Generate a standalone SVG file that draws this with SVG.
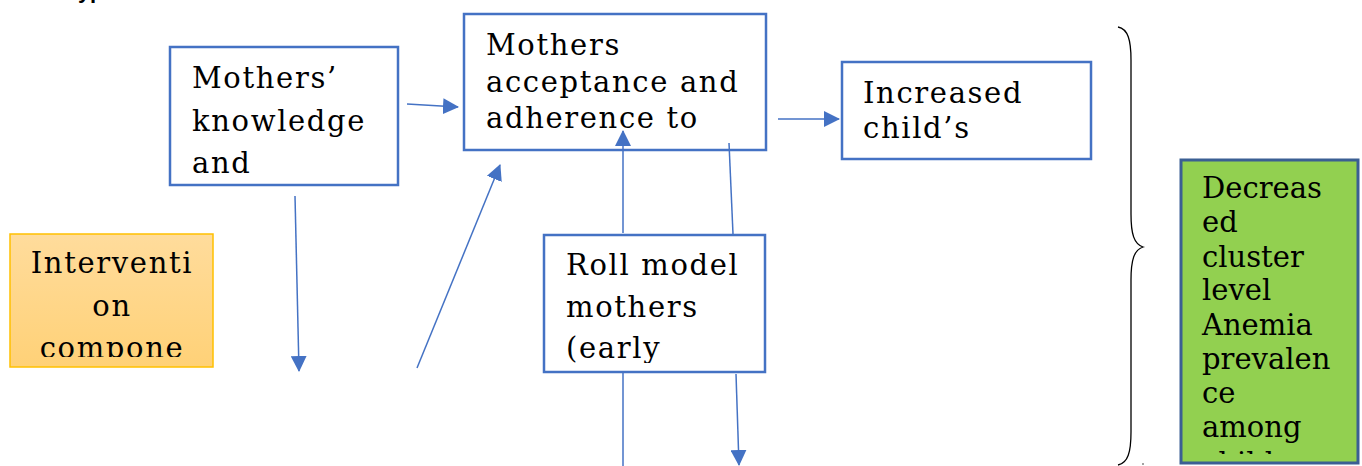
<svg xmlns="http://www.w3.org/2000/svg" width="1362" height="466" viewBox="0 0 1362 466">
<style>
.box{fill:#fff;stroke:#4472C4;stroke-width:2.5}
.t{font-family:"DejaVu Serif",serif;font-size:29px;fill:#000}
.w{letter-spacing:1.65px}
.c{fill:none;stroke:#4472C4;stroke-width:1.5}
.top{font-family:"Liberation Sans",Arial,sans-serif;font-size:22px;font-weight:bold;fill:#000}
</style>
<defs>
<marker id="arr" markerUnits="userSpaceOnUse" markerWidth="16" markerHeight="16" viewBox="0 0 16 16" refX="15" refY="8" orient="auto">
<path d="M0,0 L16,8 L0,16 z" fill="#4472C4"/>
</marker>
<linearGradient id="og" x1="0" y1="0" x2="0" y2="1">
<stop offset="0" stop-color="#FFDC9C"/>
<stop offset="1" stop-color="#FFD177"/>
</linearGradient>
<clipPath id="cpD"><rect x="546" y="237" width="217" height="126"/></clipPath>
<clipPath id="cpE"><rect x="11" y="235" width="201" height="122"/></clipPath>
<clipPath id="cpF"><rect x="1183" y="162" width="173" height="292"/></clipPath>
<clipPath id="cpA"><rect x="171" y="48" width="226" height="136"/></clipPath>
<clipPath id="cpB"><rect x="465" y="15" width="300" height="134"/></clipPath>
</defs>
<rect width="1362" height="466" fill="#fff"/>
<text class="top" x="62" y="-2">Hypothesis</text>

<g id="nodeA">
<rect class="box" x="170" y="47" width="228" height="138"/>
<g clip-path="url(#cpA)" class="t w">
<text x="192" y="88">Mothers’</text>
<text x="192" y="131">knowledge</text>
<text x="192" y="173">and</text>
</g>
</g>

<g id="nodeB">
<rect class="box" x="464" y="14" width="302" height="136"/>
<g clip-path="url(#cpB)" class="t w">
<text x="486" y="55">Mothers</text>
<text x="486" y="92">acceptance and</text>
<text x="486" y="128">adherence to</text>
</g>
</g>

<g id="nodeC">
<rect class="box" x="842" y="62" width="249" height="97"/>
<g class="t w">
<text x="863" y="103">Increased</text>
<text x="863" y="138">child’s</text>
</g>
</g>

<g id="nodeD">
<rect class="box" x="544" y="235" width="221" height="137"/>
<g clip-path="url(#cpD)" class="t w">
<text x="566" y="275">Roll model</text>
<text x="566" y="317">mothers</text>
<text x="566" y="358">(early</text>
</g>
</g>

<g id="nodeE">
<rect x="10" y="234" width="203" height="133" fill="url(#og)" stroke="#FFC000" stroke-width="1.5"/>
<g clip-path="url(#cpE)" text-anchor="middle" class="t w">
<text x="112" y="273">Interventi</text>
<text x="112" y="316">on</text>
<text x="112" y="358">compone</text>
</g>
</g>

<g id="nodeF">
<rect x="1181" y="160" width="177" height="303" fill="#92D050" stroke="#3B5F93" stroke-width="3"/>
<g clip-path="url(#cpF)" class="t">
<text x="1202" y="198">Decreas</text>
<text x="1202" y="232">ed</text>
<text x="1202" y="267">cluster</text>
<text x="1202" y="300">level</text>
<text x="1202" y="335">Anemia</text>
<text x="1202" y="369">prevalen</text>
<text x="1202" y="403">ce</text>
<text x="1202" y="437">among</text>
<text x="1202" y="473">children</text>
</g>
</g>

<g id="brace">
<path d="M1118,27 C1128,29 1131,40 1131,60 L1131,214 C1131,234 1134,244 1143,247 C1134,250 1131,260 1131,280 L1131,432 C1131,452 1128,463 1118,465" fill="none" stroke="#000" stroke-width="1.3"/>
<circle cx="1143" cy="464" r="0.7" fill="#000"/>
</g>

<g id="connectors">
<line class="c" x1="407" y1="104" x2="458" y2="107" marker-end="url(#arr)"/>
<line class="c" x1="778" y1="119" x2="839" y2="119" marker-end="url(#arr)"/>
<line class="c" x1="295" y1="196" x2="299" y2="371" marker-end="url(#arr)"/>
<line class="c" x1="417" y1="368" x2="500" y2="165" marker-end="url(#arr)"/>
<line class="c" x1="623" y1="233" x2="623" y2="131" marker-end="url(#arr)"/>
<line class="c" x1="729" y1="143" x2="733" y2="234"/>
<line class="c" x1="623" y1="373" x2="623" y2="466"/>
<line class="c" x1="736" y1="374" x2="739" y2="465" marker-end="url(#arr)"/>
</g>
</svg>
